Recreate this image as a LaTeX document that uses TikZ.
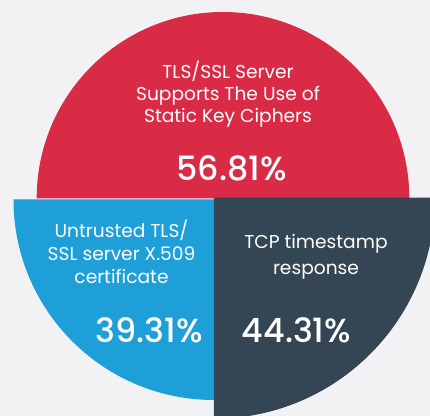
\documentclass[tikz,border=0pt]{standalone}
\usepackage{fontspec}
\setmainfont{Poppins}
\newfontfamily\pctfont{Poppins Medium}
\usepackage{xcolor}
\definecolor{bgray}{RGB}{242,242,245}
\definecolor{pred}{RGB}{217,42,70}
\definecolor{pblue}{RGB}{30,159,216}
\definecolor{pslate}{RGB}{52,70,83}

\begin{document}
\begin{tikzpicture}[x=0.2mm,y=0.2mm,
    slicetext/.style={text=white, align=center, inner sep=0pt, font=\fontsize{10.6}{12.5}\selectfont},
    pct/.style={text=white, inner sep=0pt, font=\pctfont\fontsize{19}{21}\selectfont}]
            \useasboundingbox (0,0) rectangle (430,416);
            \fill[bgray] (0,0) rectangle (430,416);
            \clip (0,0) rectangle (430,416);

            \fill[pred] (36.7,217.7) arc[start angle=180, end angle=0, radius=186.3] -- cycle;
            \fill[pblue] (214,216.5) -- (13.5,216.5) arc[start angle=180, end angle=270, radius=200.5] -- cycle;
            \fill[pslate] (214,218.3) -- (214,-2.7) arc[start angle=270, end angle=360, radius=221] -- cycle;

            \node[slicetext] (ciphers) at (228,322) {TLS/SSL Server\\Supports The Use of\\Static Key Ciphers};
            \node[pct] (ciphersval) at (231.5,248) {56.81\%};
            \node[slicetext, font=\fontsize{10.6}{13.1}\selectfont] (cert) at (121.5,164) {Untrusted TLS/\\SSL server X.509\\certificate};
            \node[pct] (certval) at (149,86) {39.31\%};
            \node[slicetext, font=\fontsize{10.6}{14.8}\selectfont] (tcp) at (316,159) {TCP timestamp\\response};
            \node[pct] (tcpval) at (296.5,86) {44.31\%};
        \end{tikzpicture}
\end{document}
